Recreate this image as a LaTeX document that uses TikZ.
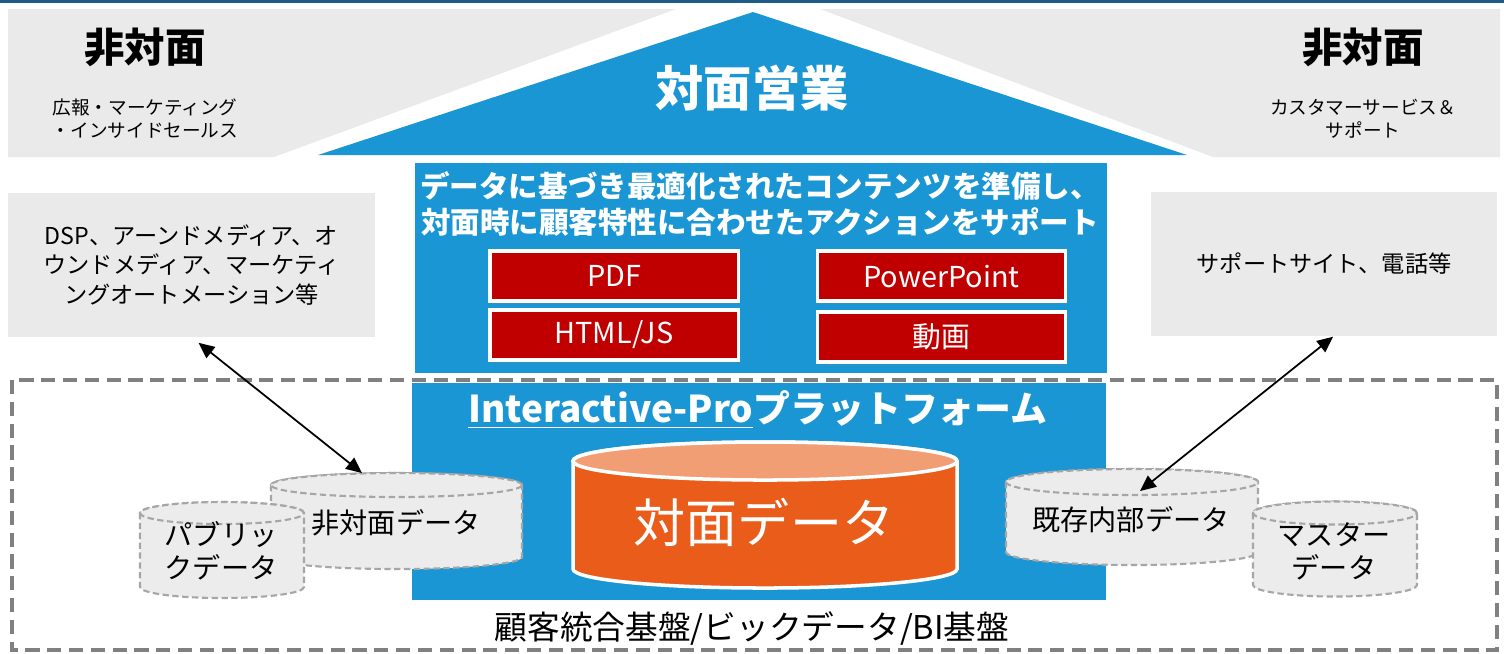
\documentclass[tikz,border=0pt]{standalone}
\usepackage{fontspec}
\setmainfont{Noto Sans CJK JP}
\usetikzlibrary{arrows.meta,shadows}

\definecolor{roofblue}{RGB}{26,150,212}
\definecolor{sidegrey}{RGB}{234,234,234}
\definecolor{topline}{RGB}{31,92,135}
\definecolor{boxred}{RGB}{192,0,0}
\definecolor{faceorange}{RGB}{234,92,26}
\definecolor{lidorange}{RGB}{241,158,116}
\definecolor{dbgrey}{RGB}{236,236,236}
\definecolor{dbline}{RGB}{166,166,166}
\definecolor{framegrey}{RGB}{128,128,128}

% style, lid colour, cx, rx, y top, y bottom, ry
\newcommand{\dbcyl}[7]{%
  \filldraw[#1] (#3-#4,#5) -- (#3-#4,#6)
    arc[start angle=180,end angle=360,x radius=#4*0.01cm,y radius=#7*0.01cm]
    -- (#3+#4,#5) arc[start angle=0,end angle=180,x radius=#4*0.01cm,y radius=#7*0.01cm] -- cycle;
  \filldraw[#1,fill=#2] (#3,#5) ellipse[x radius=#4*0.01cm,y radius=#7*0.01cm];
}

\tikzset{
  sidebox/.style={fill=sidegrey,inner sep=0pt,minimum height=1.44cm,align=center,font=\fontsize{6.6}{8.3}\selectfont},
  redbox/.style={fill=boxred,draw=white,line width=0.9pt,minimum width=2.48cm,minimum height=0.5cm,inner sep=0pt,
    text=white,font=\fontsize{8.2}{9}\selectfont,drop shadow={opacity=0.3,shadow xshift=0.4pt,shadow yshift=-0.8pt}},
  dbface/.style={fill=dbgrey,draw=dbline,line width=0.6pt,dash pattern=on 1.8pt off 1pt},
  dblabel/.style={font=\fontsize{8}{9.4}\selectfont,align=center},
  dbarrow/.style={{Triangle[length=4.5pt,width=4pt]}-{Triangle[length=4.5pt,width=4pt]},line width=0.5pt}
}

\begin{document}
\begin{tikzpicture}[x=0.01cm,y=-0.01cm]
        \useasboundingbox[fill=white] (0,0) rectangle (1504,653);
        \fill[topline] (0,0) rectangle (1504,3);

        \fill[sidegrey] (8,9) -- (676,9) -- (274,157) -- (8,157) -- cycle;
        \fill[sidegrey] (820,9) -- (1500,9) -- (1500,157) -- (1213,157) -- cycle;
        \fill[roofblue] (318,155) -- (753,12) -- (1187,155) -- cycle;

        \node[font=\bfseries\fontsize{11.5}{12}\selectfont] (lefthead) at (145,47) {非対面};
        \node[font=\bfseries\fontsize{11.5}{12}\selectfont] (righthead) at (1363,47) {非対面};
        \node[align=center,font=\fontsize{5.3}{6.5}\selectfont] (leftsub) at (145,119) {広報・マーケティング\\・インサイドセールス};
        \node[align=center,font=\fontsize{5.3}{6.5}\selectfont] (rightsub) at (1363,119) {カスタマーサービス＆\\サポート};
        \node[text=white,font=\bfseries\fontsize{13.7}{14}\selectfont] (roof) at (752,88) {対面営業};

        \fill[roofblue] (415,163) rectangle (1107,373);
        \node[text=white,align=center,font=\bfseries\fontsize{8.4}{10.2}\selectfont] (aim) at (760,204)
            {データに基づき最適化されたコンテンツを準備し、\\対面時に顧客特性に合わせたアクションをサポート};
        \foreach \nm/\x/\y/\t in {pdf/614/276/PDF, ppt/941.5/276/PowerPoint, html/614/335/{HTML/JS}, movie/941.5/337/動画} {
            \node[redbox] (\nm) at (\x,\y) {\t};
        }

        \fill[roofblue] (412,383) rectangle (1106,600);
        \node[text=white,font=\bfseries\fontsize{10.5}{11}\selectfont] (platform) at (758,410) {\underline{Interactive-Pro}プラットフォーム};
        \dbcyl{fill=faceorange,draw=white,line width=1pt}{lidorange}{765}{192}{461}{569}{19}
        \node[text=white,font=\fontsize{14.8}{16}\selectfont] (facedata) at (764,522) {対面データ};

        \node[sidebox,minimum width=3.67cm] (dsp) at (191.5,265)
            {DSP、アーンドメディア、オ\\ウンドメディア、マーケティ\\ングオートメーション等};
        \node[sidebox,minimum width=3.46cm] (supp) at (1324,264) {サポートサイト、電話等};

        \dbcyl{dbface}{dbgrey}{396.5}{125.5}{485}{557}{12}
        \node[dblabel] (offdata) at (396,523) {非対面データ};
        \dbcyl{dbface}{dbgrey}{222}{82}{513}{587}{11}
        \node[dblabel] (pubdata) at (221,551) {パブリッ\\クデータ};
        \dbcyl{dbface}{dbgrey}{1132}{126}{482}{552}{13}
        \node[dblabel] (indata) at (1131,520) {既存内部データ};
        \dbcyl{dbface}{dbgrey}{1335}{82}{513}{585}{11.5}
        \node[dblabel] (masterdata) at (1334,551) {マスター\\データ};

        \draw[framegrey,line width=1.3pt,dash pattern=on 4pt off 2.2pt] (12,380) rectangle (1497,650);
        \node[font=\fontsize{9.3}{10}\selectfont] (base) at (752,628) {顧客統合基盤/ビックデータ/BI基盤};

        \coordinate (offtop) at (362,473);
        \coordinate (intop) at (1140,491);
        \draw[dbarrow] ([xshift=0.07cm,yshift=-0.05cm]dsp.south) -- (offtop);
        \draw[dbarrow] (intop) -- ([xshift=0.09cm]supp.south);

\end{tikzpicture}
\end{document}
